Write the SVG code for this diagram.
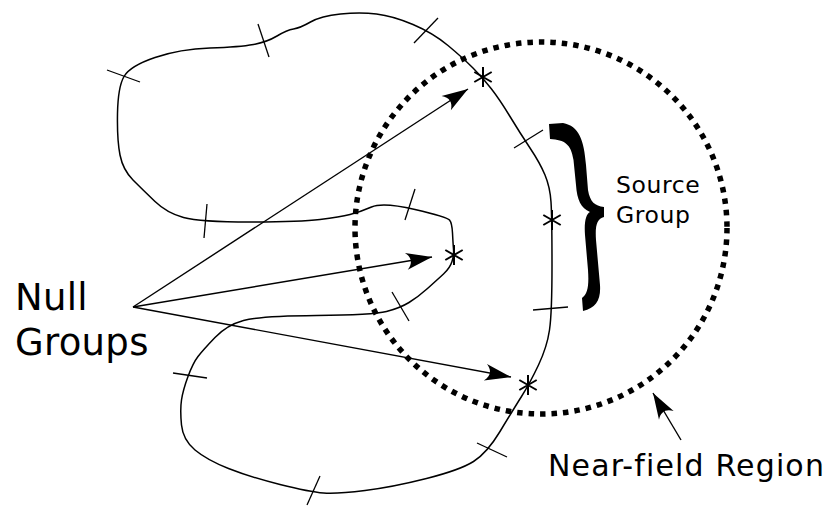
<svg xmlns="http://www.w3.org/2000/svg" width="829" height="506" viewBox="0 0 829 506">
<style>
.curve{fill:none;stroke:#000;stroke-width:1.5;stroke-linejoin:round}
.tick{stroke:#000;stroke-width:1.3;fill:none}
.star{stroke:#000;stroke-width:2;fill:none}
.conn{stroke:#000;stroke-width:1.4;fill:none}
.lbl{font-family:"DejaVu Sans",Verdana,sans-serif;fill:#000}
</style>
<defs>
<marker id="ah" markerUnits="userSpaceOnUse" markerWidth="30" markerHeight="20" viewBox="-28 -10 30 20" refX="0" refY="0" orient="auto">
<path d="M0,0 L-26,-8.5 C-20,-3 -20,3 -26,8.5 Z" fill="#000"/>
</marker>
</defs>
<rect width="829" height="506" fill="#fff"/>
<g id="near-field-region">
<circle cx="541" cy="228" r="186" fill="none" stroke="#000" stroke-width="5.5" stroke-dasharray="5.5 6"/>
</g>
<g id="boundary">
<path class="curve" d="M117.5,113.5 Q118,87 124,76.5 Q130,66 155,57.5 Q180,49 210,48 Q240,47 253.5,44.5 Q267,42 277,36 Q287,30 293.5,29 Q300,28 310.5,22 Q321,16 340.5,14 Q360,12 376.5,14 Q393,16 413,24.5 Q433,33 448,45.5 Q463,58 473,68 Q483,78 491.5,89 Q500,100 510,116.5 Q520,133 530,148 Q540,163 545,175 Q550,187 551,202 Q552,217 552,265 Q552,313 549.5,330 Q547,347 538.5,365 Q530,383 521.5,396.5 Q513,410 500,431.5 Q487,453 473.5,461.5 Q460,470 426.5,478.5 Q393,487 365,490.5 Q337,494 323.5,493 Q310,492 280,484.5 Q250,477 228.5,468.5 Q207,460 195,450 Q183,440 181.5,425 Q180,410 181.5,400 Q183,390 188,376.5 Q193,363 198,356.5 Q203,350 215,337.5 Q227,325 243.5,320.5 Q260,316 316.5,315.5 Q373,315 386.5,311.5 Q400,308 409,302.5 Q418,297 427.5,288.5 Q437,280 443.5,274 Q450,268 452,261.5 Q454,255 453.5,249 Q453,243 452.5,233 Q452,223 449.5,220 Q447,217 415,209.5 Q383,202 371.5,207 Q360,212 350,214.5 Q340,217 320,219.5 Q300,222 250,222 Q200,222 183.5,217.5 Q167,213 155,201.5 Q143,190 133,180 Q123,170 120,155 Q117,140 117.5,113.5 Z"/>
</g>
<g id="ticks">
<line class="tick" x1="258" y1="24" x2="269" y2="57"/>
<line class="tick" x1="414" y1="43" x2="438" y2="18"/>
<line class="tick" x1="107" y1="70" x2="140" y2="82"/>
<line class="tick" x1="207" y1="204" x2="204" y2="238"/>
<line class="tick" x1="415" y1="189" x2="405" y2="220"/>
<line class="tick" x1="514" y1="148" x2="543" y2="130"/>
<line class="tick" x1="533" y1="310" x2="568" y2="307"/>
<line class="tick" x1="392" y1="292" x2="409" y2="321"/>
<line class="tick" x1="173" y1="373" x2="207" y2="378"/>
<line class="tick" x1="320" y1="476" x2="307" y2="505"/>
<line class="tick" x1="477" y1="443" x2="507" y2="457"/>
</g>
<g id="stars">
<path class="star" d="M483,67v20M474.3,72l17.4,10M474.3,82l17.4,-10"/>
<path class="star" d="M454,245v20M445.3,250l17.4,10M445.3,260l17.4,-10"/>
<path class="star" d="M552,210v20M543.3,215l17.4,10M543.3,225l17.4,-10"/>
<path class="star" d="M528,375v20M519.3,380l17.4,10M519.3,390l17.4,-10"/>
</g>
<g id="source-group-brace">
<path fill="#000" d="M549,124 L563,123 C579,126 584,140 586,165 L588,190 C590,202 595,206 604,207 L604,217 C597,219 595,225 596,240 L600,285 C601,300 596,308 583,311 L582,298 C588,294 589,285 588,270 L585,235 C584,222 586,214 590,212 C581,208 577,200 576,185 L573.5,160 C571,144 565,140 550,139 Z"/>
</g>
<g id="connectors">
<line class="conn" x1="133" y1="307" x2="468" y2="89" marker-end="url(#ah)"/>
<line class="conn" x1="133" y1="307" x2="432" y2="257" marker-end="url(#ah)"/>
<line class="conn" x1="133" y1="307" x2="511" y2="377" marker-end="url(#ah)"/>
<line class="conn" x1="681" y1="440" x2="653" y2="393" marker-end="url(#ah)"/>
</g>
<g id="labels">
<text class="lbl" x="15" y="310" font-size="37" letter-spacing="0.3">Null</text>
<text class="lbl" x="15" y="355" font-size="37" letter-spacing="0.3">Groups</text>
<text class="lbl" x="616" y="193" font-size="23.5" letter-spacing="0.6">Source</text>
<text class="lbl" x="616" y="223" font-size="23.5" letter-spacing="0.6">Group</text>
<text class="lbl" x="548" y="475.5" font-size="30" letter-spacing="1.15">Near-field Region</text>
</g>
</svg>
